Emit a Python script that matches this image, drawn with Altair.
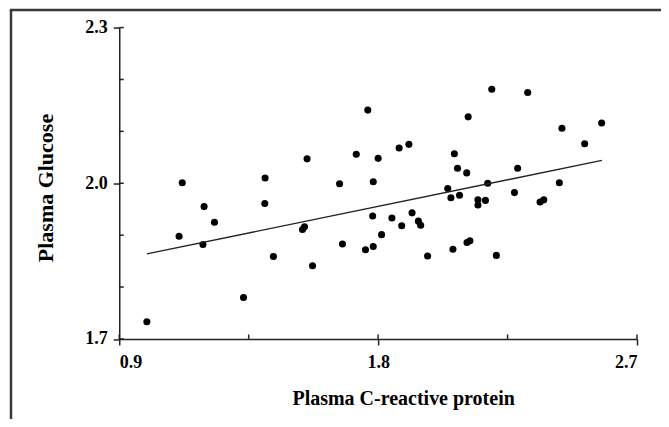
import altair as alt
import pandas as pd

# ---- data ----
crp = [0.996, 1.108, 1.119, 1.191, 1.195, 1.231, 1.332, 1.407, 1.406, 1.436,
       1.537, 1.544, 1.553, 1.572, 1.666, 1.676, 1.724, 1.756, 1.764, 1.781,
       1.783, 1.783, 1.800, 1.812, 1.848, 1.873, 1.882, 1.907, 1.918, 1.940,
       1.948, 1.972, 2.042, 2.053, 2.060, 2.065, 2.076, 2.083, 2.108, 2.109,
       2.113, 2.119, 2.147, 2.147, 2.173, 2.181, 2.195, 2.211, 2.274, 2.285,
       2.320, 2.363, 2.376, 2.430, 2.439, 2.518, 2.577]
glucose = [1.733, 1.898, 2.001, 1.882, 1.955, 1.925, 1.780, 2.010, 1.961, 1.859,
           1.911, 1.916, 2.047, 1.841, 1.999, 1.883, 2.056, 1.872, 2.141, 1.937,
           2.003, 1.878, 2.048, 1.901, 1.933, 2.068, 1.918, 2.075, 1.943, 1.927,
           1.919, 1.860, 1.990, 1.972, 1.873, 2.057, 2.029, 1.977, 2.020, 1.886,
           2.128, 1.889, 1.968, 1.958, 1.967, 2.000, 2.181, 1.861, 1.982, 2.029,
           2.175, 1.964, 1.968, 2.001, 2.106, 2.076, 2.116]
fit_crp = [0.996, 2.578]
fit_glucose = [1.864, 2.044]
x_tick_values = [0.9, 1.35, 1.8, 2.25, 2.7]
y_tick_values = [1.7, 1.8, 1.9, 2.0, 2.1, 2.2, 2.3]
x_label_values = [0.9, 1.8, 2.7]
y_label_values = [1.7, 2.0, 2.3]

W, H = 518, 311.5
FONT = "Liberation Serif"
INK = "#222222"

pts = pd.DataFrame({"crp": crp, "glucose": glucose})
fit = pd.DataFrame({"crp": fit_crp, "glucose": fit_glucose})
xt = pd.DataFrame({"crp": x_tick_values})
yt = pd.DataFrame({"glucose": y_tick_values})
one = pd.DataFrame({"k": [0]})

xs = alt.Scale(domain=[0.9, 2.7], nice=False, zero=False)
ys = alt.Scale(domain=[1.7, 2.3], nice=False, zero=False)

common = dict(
    grid=False, domainColor=INK, domainWidth=1.5,
    tickColor=INK, tickWidth=1.5, tickSize=6, format=".1f",
    labelFont=FONT, labelFontWeight="bold", labelFontSize=18, labelColor="black",
    titleFont=FONT, titleFontWeight="bold", titleColor="black",
    titleBaseline="alphabetic", titleAlign="center",
)
xaxis = alt.Axis(values=x_label_values, title="Plasma C-reactive protein",
                 titleX=284, titleY=65.5, titleFontSize=20, labelPadding=9,
                 **common)
yaxis = alt.Axis(values=y_label_values, title="Plasma Glucose",
                 titleX=-67, titleY=160, titleAngle=270, titleFontSize=22,
                 labelPadding=6, **common)

X = lambda: alt.X("crp:Q", scale=xs, axis=xaxis)
Y = lambda: alt.Y("glucose:Q", scale=ys, axis=yaxis)

points = alt.Chart(pts).mark_circle(size=50, color="black", opacity=1).encode(
    x=X(), y=Y())

line = alt.Chart(fit).mark_line(color=INK, strokeWidth=1.4).encode(x=X(), y=Y())

ystubs = alt.Chart(yt).mark_rule(color=INK, strokeWidth=1.5).encode(
    x=alt.value(0), x2=alt.value(4.5), y=Y())
xstubs = alt.Chart(xt).mark_rule(color=INK, strokeWidth=1.5).encode(
    x=X(), y=alt.value(H), y2=alt.value(H - 4.5))

frame_left = alt.Chart(one).mark_rule(color="#3a3a3a", strokeWidth=2.5).encode(
    x=alt.value(-108.3), y=alt.value(-17.5), y2=alt.value(392),
)
frame_top = alt.Chart(one).mark_rule(color="#3a3a3a", strokeWidth=2.5).encode(
    x=alt.value(-109.5), x2=alt.value(545), y=alt.value(-17.5),
)

chart = alt.layer(points, line, ystubs, xstubs, frame_left, frame_top).properties(
    width=W, height=H,
    padding={"left": 111.3, "top": 19.5, "right": 24, "bottom": 80},
    autosize=alt.AutoSizeParams(type="none"),
    background="white",
).configure_view(stroke=None)

chart.save("out.html", embed_options={"renderer": "svg", "actions": False})
